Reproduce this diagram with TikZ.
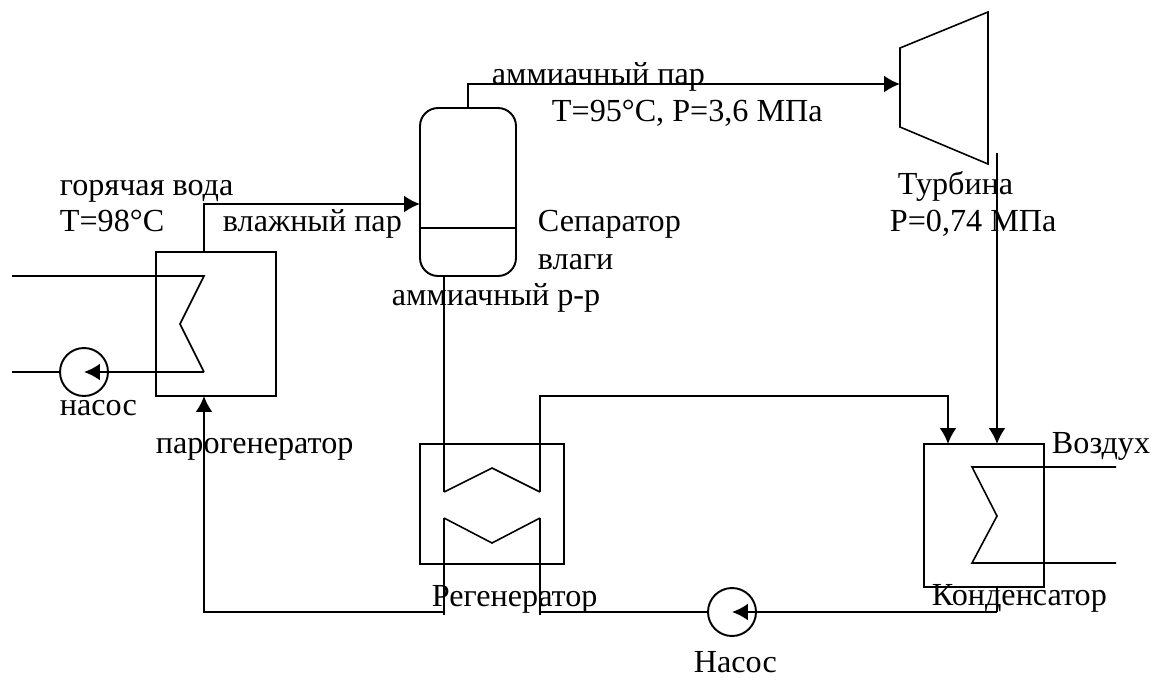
\documentclass[tikz,border=0pt]{standalone}
\usepackage{fontspec}
\setmainfont{Liberation Serif}
\usetikzlibrary{arrows.meta}

\begin{document}
\begin{tikzpicture}[x=0.02cm, y=-0.02cm, line width=1.1pt,
        unit/.style={rectangle, draw, inner sep=0pt, outer sep=0pt},
        pump/.style={circle, draw, inner sep=0pt, outer sep=0pt, minimum size=0.96cm},
        lbl/.style={anchor=base west, inner sep=0pt, font=\fontsize{18.3}{20}\selectfont},
        coil/.style={line width=0.9pt, line join=miter},
        flow/.style={-{Latex[length=9pt, width=9.5pt]}}]
        \useasboundingbox (0, 0) rectangle (1152, 680);

        % Nodes
        \node[unit, minimum width=2.4cm, minimum height=2.88cm] (gen) at (216, 324) {};
        \node[unit, rounded corners=0.36cm, minimum width=1.92cm, minimum height=3.36cm] (sep) at (468, 192) {};
        \node[unit, minimum width=2.88cm, minimum height=2.4cm] (reg) at (492, 504) {};
        \node[unit, minimum width=2.4cm, minimum height=2.86cm] (cond) at (984, 515.5) {};
        \node[pump] (pump1) at (84, 372) {};
        \node[pump] (pump2) at (732, 612) {};

        % Points
        \coordinate (turbin) at (900, 84);
        \coordinate (turbout) at (997, 153);
        \coordinate (genin) at (204, 396);
        \coordinate (genout) at (204, 252);
        \coordinate (sepin) at (420, 204);
        \coordinate (sepl) at (420, 228);
        \coordinate (sepr) at (516, 228);
        \coordinate (sepliq) at (444, 276);
        \coordinate (condin1) at (948, 444);
        \coordinate (condin2) at (997, 444);
        \coordinate (condout) at (997, 587);
        \coordinate (hotin) at (12, 276);
        \coordinate (hotout) at (12, 372);
        \coordinate (airin) at (1116, 467);
        \coordinate (airout) at (1116, 563);
        \coordinate (rega) at (444, 492);
        \coordinate (regb) at (540, 492);
        \coordinate (regc) at (444, 518);
        \coordinate (regd) at (540, 518);
        \coordinate (rege) at (444, 615);
        \coordinate (regf) at (540, 615);
        \coordinate (regtop) at (540, 396);

        % Turbine
        \draw[coil] (900, 48) -- (988, 12) -- (988, 164) -- (900, 127) -- cycle;

        % Coils
        \draw[coil] (hotin) -- (204, 276) -- (180, 324) -- (204, 372);
        \draw[coil] (airin) -- (972, 467) -- (997, 516) -- (972, 563) -- (airout);
        \draw[coil] (rega) -- (492, 468) -- (regb);
        \draw[coil] (regc) -- (492, 543) -- (regd);

        % Lines
        \draw (sepl) -- (sepr);
        \draw[flow] (sep.north) |- (turbin);
        \draw[flow] (genout) |- (sepin);
        \draw (sepliq) -- (rega);
        \draw[flow] (regb) -- (regtop) -| (condin1);
        \draw[flow] (turbout) -- (condin2);
        \draw (regc) -- (rege);
        \draw (regd) -- (regf);
        \draw[flow] (444, 612) -| (genin);
        \draw (540, 612) -- (pump2.west);
        \draw[flow] (997, 612) -- (pump2.center);
        \draw (condout) -- (997, 612);
        \draw[flow] (204, 372) -- (pump1.center);
        \draw (pump1.west) -- (hotout);

        % Labels
        \node[lbl] (hotlbl) at (59, 195) {горячая вода};
        \node[lbl] (hottemp) at (59, 231) {Т=98°С};
        \node[lbl] (wetlbl) at (222, 231) {влажный пар};
        \node[lbl] (pump1lbl) at (59, 415) {насос};
        \node[lbl] (genlbl) at (155, 453) {парогенератор};
        \node[lbl] (vaplbl) at (491, 84) {аммиачный пар};
        \node[lbl] (vapdata) at (551, 121) {Т=95°С, Р=3,6 МПа};
        \node[lbl] (seplbl) at (537, 231) {Сепаратор};
        \node[lbl] (seplbl2) at (537, 269) {влаги};
        \node[lbl] (liqlbl) at (391, 305) {аммиачный р-р};
        \node[lbl] (turblbl) at (897, 194) {Турбина};
        \node[lbl] (turbdata) at (889, 231) {Р=0,74 МПа};
        \node[lbl] (airlbl) at (1051, 453) {Воздух};
        \node[lbl] (condlbl) at (931, 605) {Конденсатор};
        \node[lbl] (reglbl) at (431, 606) {Регенератор};
        \node[lbl] (pump2lbl) at (693, 672) {Насос};
    \end{tikzpicture}
\end{document}
